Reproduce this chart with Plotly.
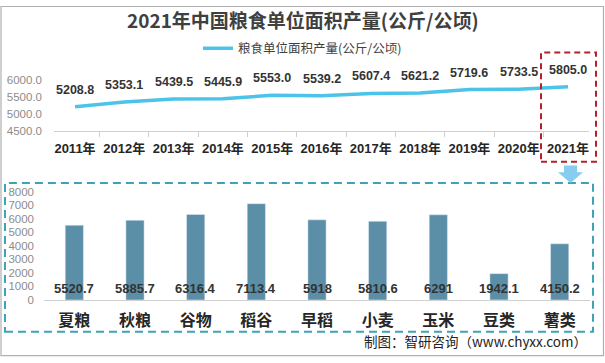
import plotly.graph_objects as go

W, H = 605, 363

years = ["2011年", "2012年", "2013年", "2014年", "2015年", "2016年",
         "2017年", "2018年", "2019年", "2020年", "2021年"]
yield_vals = [5208.8, 5353.1, 5439.5, 5445.9, 5553.0, 5539.2,
              5607.4, 5621.2, 5719.6, 5733.5, 5805.0]

crops = ["夏粮", "秋粮", "谷物", "稻谷", "早稻", "小麦", "玉米", "豆类", "薯类"]
crop_vals = [5520.7, 5885.7, 6316.4, 7113.4, 5918, 5810.6, 6291, 1942.1, 4150.2]
crop_labels = ["5520.7", "5885.7", "6316.4", "7113.4", "5918", "5810.6", "6291", "1942.1", "4150.2"]

title_text = "2021年中国粮食单位面积产量(公斤/公顷)"
legend_name = "粮食单位面积产量(公斤/公顷)"
source_text = "制图：智研咨询（www.chyxx.com）"

CJK = "Noto Sans CJK SC, Liberation Sans, sans-serif"
NUM = "Liberation Sans, Noto Sans CJK SC, sans-serif"

def px(x):
    return x / W

def py(y):
    return 1 - y / H

fig = go.Figure()

fig.add_trace(go.Scatter(
    x=years, y=yield_vals, mode="lines", name=legend_name,
    line=dict(color="#4cc3e8", width=3.5), xaxis="x", yaxis="y",
    showlegend=True, hoverinfo="skip"))

fig.add_trace(go.Bar(
    x=crops, y=crop_vals, marker=dict(color="#5b8fa8"), xaxis="x2", yaxis="y2",
    showlegend=False, hoverinfo="skip"))

annotations = []
for yr, v in zip(years, yield_vals):
    annotations.append(dict(
        x=yr, y=v, xref="x", yref="y", text=f"{v:.1f}", showarrow=False,
        yshift=17, font=dict(family=NUM, size=12.5, color="#333333", weight="bold")))
for c, lab in zip(crops, crop_labels):
    annotations.append(dict(
        x=c, y=0, xref="x2", yref="y2", text=lab, showarrow=False,
        yshift=11, font=dict(family=NUM, size=13, color="#333333", weight="bold")))

annotations.append(dict(
    x=0.5, y=py(14), xref="paper", yref="paper", text=title_text, showarrow=False,
    xanchor="center", yanchor="middle",
    font=dict(family=CJK, size=19, color="#404040", weight="bold")))
annotations.append(dict(
    x=px(589), y=py(346), xref="paper", yref="paper", text=source_text, showarrow=False,
    xanchor="right", yanchor="middle",
    font=dict(family=CJK, size=13.5, color="#222222")))

shapes = [
    # outer border
    dict(type="rect", xref="paper", yref="paper", x0=px(1), x1=px(603.5), y0=py(361.5), y1=py(0.5),
         line=dict(color="#b0b0b0", width=1.2)),
    # red dashed box
    dict(type="rect", xref="paper", yref="paper", x0=px(541), x1=px(596), y0=py(161), y1=py(48),
         line=dict(color="#b5202a", width=2, dash="6px,4px")),
    # teal dashed box
    dict(type="rect", xref="paper", yref="paper", x0=px(5), x1=px(593), y0=py(337), y1=py(183),
         line=dict(color="#3fa3b8", width=2, dash="8px,5px")),
    # arrow
    dict(type="path", xref="paper", yref="paper",
         path=(f"M {px(564)},{py(165)} L {px(577)},{py(165)} L {px(577)},{py(172)} "
               f"L {px(583)},{py(172)} L {px(570.5)},{py(183)} L {px(558)},{py(172)} "
               f"L {px(564)},{py(172)} Z"),
         fillcolor="#86cdf0", line=dict(width=0)),
]

fig.update_layout(
    width=W, height=H, margin=dict(l=0, r=0, t=0, b=0),
    paper_bgcolor="white", plot_bgcolor="white",
    showlegend=True,
    legend=dict(orientation="h", x=px(198), y=py(44), xanchor="left", yanchor="middle",
                font=dict(family=CJK, size=12.5, color="#404040"), bgcolor="rgba(0,0,0,0)",
                itemwidth=30),
    xaxis=dict(domain=[px(54), px(589)], anchor="y", type="category",
               showline=True, linecolor="#d0d0d0", linewidth=1,
               ticks="outside", tickson="boundaries", ticklen=5, tickcolor="#d0d0d0",
               tickangle=0, ticklabelstandoff=6,
               tickfont=dict(family=NUM, size=13, color="#262626", weight="bold"),
               showgrid=False, fixedrange=True),
    yaxis=dict(domain=[py(129), py(76.7)], anchor="x", range=[4500, 6000], dtick=500,
               tickformat=".1f", showgrid=False, zeroline=False, showline=False,
               tickfont=dict(family=NUM, size=11.5, color="#8c8c8c"), ticks="",
               ticklabelstandoff=11),
    xaxis2=dict(domain=[px(44), px(590)], anchor="y2", type="category",
                showline=True, linecolor="#d0d0d0", linewidth=1, ticks="",
                tickangle=0, ticklabelstandoff=6,
                tickfont=dict(family=CJK, size=16, color="#262626", weight="bold"),
                showgrid=False),
    yaxis2=dict(domain=[py(304), py(192)], anchor="x2", range=[0, 8000], dtick=1000,
                showgrid=False, zeroline=False, showline=False, ticks="",
                tickfont=dict(family=NUM, size=11.5, color="#8c8c8c"),
                ticklabelstandoff=9),
    bargap=0.7,
    annotations=annotations,
    shapes=shapes,
)

fig.write_html("out.html", config={"displayModeBar": False},
               post_script="document.body.style.margin='0';document.body.style.padding='0';")
